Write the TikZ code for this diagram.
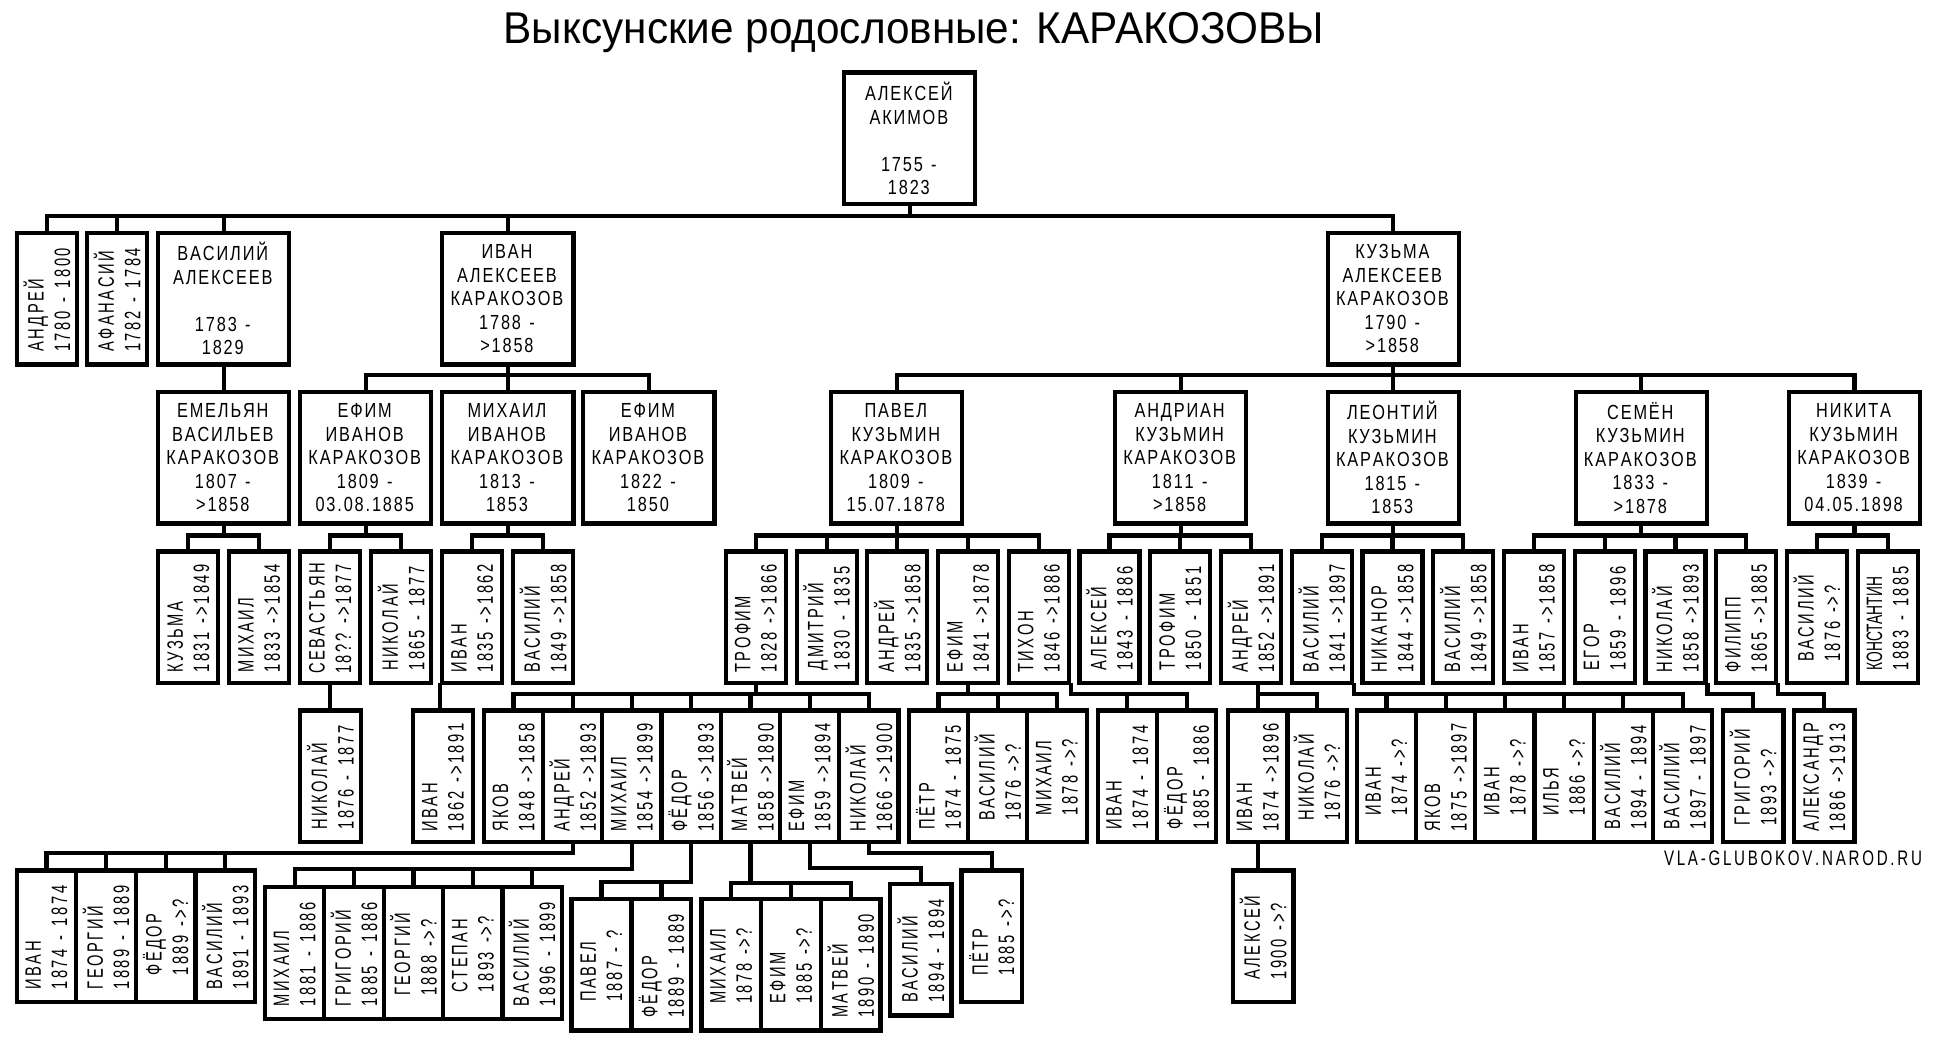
\documentclass[tikz,border=0pt]{standalone}
\usepackage{graphicx}
\usepackage{fontspec}
\setmainfont{Liberation Sans}
\newfontfamily\boxfont[FakeStretch=0.8]{Liberation Sans}
\newfontfamily\vfont[FakeStretch=0.66]{Liberation Sans}
\newfontfamily\tightfont[FakeStretch=0.62]{Liberation Sans}
\newfontfamily\sitefont[FakeStretch=0.72]{Liberation Sans}
\newfontfamily\titlefont[FakeStretch=0.95]{Liberation Sans}

% tracked (letter-spaced) text
\newdimen\trkamt
\def\trkend{\trkend}
\def\trk#1{\trkW#1 \trkstop}
\def\trkW#1 #2\trkstop{\trkL#1\trkend
    \ifx\trknil#2\trknil\else\space\kern\trkamt\trkW#2\trkstop\fi}
\def\trkL#1{\ifx#1\trkend\else#1\kern\trkamt\expandafter\trkL\fi}
\newcommand{\bigsetup}{\fontsize{16.5}{19}\boxfont\trkamt=1.5pt\relax}
\newcommand{\vsetup}{\fontsize{18}{21.3}\vfont\trkamt=2.05pt\relax}
\newcommand{\sitesetup}{\fontsize{17}{20}\sitefont\trkamt=2.2pt\relax}

% rotated two-line label: name, then dates
\newcommand{\vt}[2]{\rotatebox{90}{\vbox{\hsize=88pt
    \hbox{\expandafter\trk\expandafter{#1}}\hbox{\expandafter\trk\expandafter{#2}}}}}
% five-line label of the large boxes
\newcommand{\bigtxt}[5]{\trk{#1}\\\trk{#2}\\\mbox{}\trk{#3}\\\trk{#4}\\\trk{#5}}

\begin{document}
\begin{tikzpicture}[
    x=1pt, y=-1pt,
    link/.style={line width=3.4pt, line cap=rect},
    bigbox/.style={draw, line width=3.4pt, anchor=north west, inner sep=0pt,
        minimum width=106pt, minimum height=106.5pt, align=center,
        font=\bigsetup},
    vbox/.style={draw, line width=3.4pt, anchor=north west, inner sep=0pt,
        minimum width=48.5pt, minimum height=106.5pt,
        font=\vsetup}
]
\useasboundingbox (0,0) rectangle (1568,839);

% ---------- helpers ----------
% row of narrow boxes: x0, top, width, pitch, {name/first name/dates,...}
\newcommand{\drawrow}[5]{%
    \foreach \who/\pname/\pdates [count=\idx from 0] in {#5}{
        \node[vbox, minimum width=#3pt] (\who) at (#1+#4*\idx,#2) {\vt{\pname}{\pdates}};
    }
}
% parent point, bar level, {children}
\newcommand{\drawkids}[3]{%
    \foreach \kid in {#3}{
        \draw[link] (#1) |- (\kid.north |- 0,#2) -- (\kid.north);
    }
}

% ---------- title ----------
\node[font=\fontsize{36}{40}\titlefont, anchor=base] (title) at (739,35)
    {Выксунские родословные: КАРАКОЗОВЫ};
\node[font=\sitesetup, anchor=base] (site) at (1451,700)
    {\trk{VLA-GLUBOKOV.NAROD.RU}};

% ---------- generation 0 and 1 ----------
\node[bigbox] (aleksey) at (681,57) {\bigtxt{АЛЕКСЕЙ}{АКИМОВ}{}{1755 -}{1823}};

\node[vbox] (andrey) at (12,186.5) {\vt{АНДРЕЙ}{1780 - 1800}};
\node[vbox] (afanasiy) at (68.8,186.5) {\vt{АФАНАСИЙ}{1782 - 1784}};
\node[bigbox] (vasiliy) at (126.2,186.5) {\bigtxt{ВАСИЛИЙ}{АЛЕКСЕЕВ}{}{1783 -}{1829}};
\node[bigbox] (ivan) at (356,186.5) {\bigtxt{ИВАН}{АЛЕКСЕЕВ}{КАРАКОЗОВ}{1788 -}{>1858}};
\node[bigbox] (kuzma) at (1072,186.5) {\bigtxt{КУЗЬМА}{АЛЕКСЕЕВ}{КАРАКОЗОВ}{1790 -}{>1858}};

% ---------- generation 2 ----------
\node[bigbox] (emelyan) at (126.2,315.2) {\bigtxt{ЕМЕЛЬЯН}{ВАСИЛЬЕВ}{КАРАКОЗОВ}{1807 -}{>1858}};
\node[bigbox] (efimI) at (241,315.2) {\bigtxt{ЕФИМ}{ИВАНОВ}{КАРАКОЗОВ}{1809 -}{03.08.1885}};
\node[bigbox] (mikhailI) at (356,315.2) {\bigtxt{МИХАИЛ}{ИВАНОВ}{КАРАКОЗОВ}{1813 -}{1853}};
\node[bigbox] (efimII) at (470,315.2) {\bigtxt{ЕФИМ}{ИВАНОВ}{КАРАКОЗОВ}{1822 -}{1850}};
\node[bigbox] (pavel) at (670.5,315.2) {\bigtxt{ПАВЕЛ}{КУЗЬМИН}{КАРАКОЗОВ}{1809 -}{15.07.1878}};
\node[bigbox] (andrian) at (900,315.2) {\bigtxt{АНДРИАН}{КУЗЬМИН}{КАРАКОЗОВ}{1811 -}{>1858}};
\node[bigbox] (leontiy) at (1072,315.2) {\bigtxt{ЛЕОНТИЙ}{КУЗЬМИН}{КАРАКОЗОВ}{1815 -}{1853}};
\node[bigbox] (semyon) at (1272.5,315.2) {\bigtxt{СЕМЁН}{КУЗЬМИН}{КАРАКОЗОВ}{1833 -}{>1878}};
\node[bigbox] (nikita) at (1445,315.2) {\bigtxt{НИКИТА}{КУЗЬМИН}{КАРАКОЗОВ}{1839 -}{04.05.1898}};

% ---------- generation 3 ----------
\drawrow{126.3}{444.2}{48.5}{57.4}{kuzmaE/КУЗЬМА/1831 ->1849,
    mikhailE/МИХАИЛ/1833 ->1854,
    sevastyan/СЕВАСТЬЯН/18?? ->1877,
    nikolayE/НИКОЛАЙ/1865 - 1877,
    ivanM/ИВАН/1835 ->1862,
    vasiliyM/ВАСИЛИЙ/1849 ->1858}
\drawrow{585.3}{444.2}{48.5}{57.2}{trofimP/ТРОФИМ/1828 ->1866,
    dmitriyP/ДМИТРИЙ/1830 - 1835,
    andreyP/АНДРЕЙ/1835 ->1858,
    efimP/ЕФИМ/1841 ->1878,
    tikhonP/ТИХОН/1846 ->1886,
    alekseyA/АЛЕКСЕЙ/1843 - 1886,
    trofimA/ТРОФИМ/1850 - 1851,
    andreyA/АНДРЕЙ/1852 ->1891,
    vasiliyL/ВАСИЛИЙ/1841 ->1897,
    nikanorL/НИКАНОР/1844 ->1858,
    vasiliyLL/ВАСИЛИЙ/1849 ->1858,
    ivanS/ИВАН/1857 ->1858,
    egorS/ЕГОР/1859 - 1896,
    nikolayS/НИКОЛАЙ/1858 ->1893,
    filippS/ФИЛИПП/1865 ->1885,
    vasiliyN/ВАСИЛИЙ/1876 ->?}
\node[vbox] (konstantinN) at (1500.5,444.2)
    {\rotatebox{90}{\vbox{\hsize=88pt \hbox{\tightfont КОНСТАНТИН}\hbox{\trk{1883 - 1885}}}}};

% ---------- generation 4 ----------
\node[vbox, minimum width=49pt] (nikolaySe) at (241,572.8) {\vt{НИКОЛАЙ}{1876 - 1877}};
\node[vbox, minimum width=49pt] (ivanIM) at (332,572.8) {\vt{ИВАН}{1862 ->1891}};
\drawrow{389.6}{572.8}{47.9}{47.9}{yakovT/ЯКОВ/1848 ->1858,
    andreyT/АНДРЕЙ/1852 ->1893,
    mikhailT/МИХАИЛ/1854 ->1899,
    fyodorT/ФЁДОР/1856 ->1893,
    matveyT/МАТВЕЙ/1858 ->1890,
    efimT/ЕФИМ/1859 ->1894,
    nikolayT/НИКОЛАЙ/1866 ->1900}
\drawrow{733.3}{572.8}{47.9}{47.9}{pyotrE/ПЁТР/1874 - 1875,
    vasiliyE/ВАСИЛИЙ/1876 ->?,
    mikhailEf/МИХАИЛ/1878 ->?}
\drawrow{886}{572.8}{47.9}{47.9}{ivanTi/ИВАН/1874 - 1874,
    fyodorTi/ФЁДОР/1885 - 1886}
\drawrow{991.5}{572.8}{47.9}{47.9}{ivanAn/ИВАН/1874 ->1896,
    nikolayAn/НИКОЛАЙ/1876 ->?}
\drawrow{1095.5}{572.8}{47.9}{47.9}{ivanV/ИВАН/1874 ->?,
    yakovV/ЯКОВ/1875 ->1897,
    ivanVV/ИВАН/1878 ->?,
    ilyaV/ИЛЬЯ/1886 ->?,
    vasiliyV/ВАСИЛИЙ/1894 - 1894,
    vasiliyVV/ВАСИЛИЙ/1897 - 1897}
\node[vbox, minimum width=49pt] (grigoriyN) at (1391.5,572.8) {\vt{ГРИГОРИЙ}{1893 ->?}};
\node[vbox, minimum width=49pt] (aleksandrF) at (1449,572.8) {\vt{АЛЕКСАНДР}{1886 ->1913}};

% ---------- generation 5 ----------
\drawrow{11.8}{702.2}{48.2}{48.2}{ivanAT/ИВАН/1874 - 1874,
    georgiyAT/ГЕОРГИЙ/1889 - 1889,
    fyodorAT/ФЁДОР/1889 ->?,
    vasiliyAT/ВАСИЛИЙ/1891 - 1893}
\drawrow{212.6}{715.7}{48}{48}{mikhailMT/МИХАИЛ/1881 - 1886,
    grigoriyMT/ГРИГОРИЙ/1885 - 1886,
    georgiyMT/ГЕОРГИЙ/1888 ->?,
    stepanMT/СТЕПАН/1893 ->?,
    vasiliyMT/ВАСИЛИЙ/1896 - 1899}
\drawrow{460.4}{725.1}{48.5}{48.5}{pavelFT/ПАВЕЛ/1887 - ?,
    fyodorFT/ФЁДОР/1889 - 1889}
\drawrow{565.5}{725.1}{48.3}{48.3}{mikhailMaT/МИХАИЛ/1878 ->?,
    efimMaT/ЕФИМ/1885 ->?,
    matveyMaT/МАТВЕЙ/1890 - 1890}
\node[vbox, minimum width=49.4pt] (vasiliyEfT) at (718.3,713) {\vt{ВАСИЛИЙ}{1894 - 1894}};
\node[vbox, minimum width=49pt] (pyotrNT) at (775.8,702.2) {\vt{ПЁТР}{1885 ->?}};
\node[vbox, minimum width=49pt] (alekseyIA) at (995.3,702.2) {\vt{АЛЕКСЕЙ}{1900 ->?}};

% ---------- connectors ----------
\drawkids{aleksey.south}{174.4}{andrey,afanasiy,vasiliy,ivan,kuzma}
\draw[link] (vasiliy.south) -- (vasiliy.south |- emelyan.north);
\drawkids{ivan.south}{303.5}{efimI,mikhailI,efimII}
\drawkids{kuzma.south}{303.5}{pavel,andrian,leontiy,semyon,nikita}

\drawkids{emelyan.south}{433}{kuzmaE,mikhailE}
\drawkids{efimI.south}{433}{sevastyan,nikolayE}
\drawkids{mikhailI.south}{433}{ivanM,vasiliyM}
\drawkids{pavel.south}{433}{trofimP,dmitriyP,andreyP,efimP,tikhonP}
\drawkids{andrian.south}{433}{alekseyA,trofimA,andreyA}
\drawkids{leontiy.south}{433}{vasiliyL,nikanorL,vasiliyLL}
\drawkids{semyon.south}{433}{ivanS,egorS,nikolayS,filippS}
\drawkids{nikita.south}{433}{vasiliyN,konstantinN}

\draw[link] (sevastyan.south) -- (sevastyan.south |- nikolaySe.north);
\draw[link] (ivanM.south west) -- (ivanM.south west |- ivanIM.north);
\drawkids{trofimP.south}{561}{yakovT,andreyT,mikhailT,fyodorT,matveyT,efimT,nikolayT}
\drawkids{efimP.south}{561}{pyotrE,vasiliyE,mikhailEf}
\drawkids{tikhonP.south east}{561.5}{ivanTi,fyodorTi}
\drawkids{[xshift=5.5pt]andreyA.south}{561.5}{ivanAn,nikolayAn}
\drawkids{vasiliyL.south east}{561}{ivanV,yakovV,ivanVV,ilyaV,vasiliyV,vasiliyVV}
\drawkids{nikolayS.south east}{561}{grigoriyN}
\drawkids{filippS.south east}{561}{aleksandrF}

\drawkids{andreyT.south}{690}{ivanAT,georgiyAT,fyodorAT,vasiliyAT}
\drawkids{mikhailT.south}{703}{mikhailMT,grigoriyMT,georgiyMT,stepanMT,vasiliyMT}
\drawkids{fyodorT.south}{713}{pavelFT,fyodorFT}
\drawkids{matveyT.south}{714}{mikhailMaT,efimMaT,matveyMaT}
\drawkids{efimT.south}{702.2}{vasiliyEfT}
\drawkids{nikolayT.south}{690}{pyotrNT}
\draw[link] (ivanAn.south) -- (ivanAn.south |- alekseyIA.north);

\end{tikzpicture}
\end{document}
